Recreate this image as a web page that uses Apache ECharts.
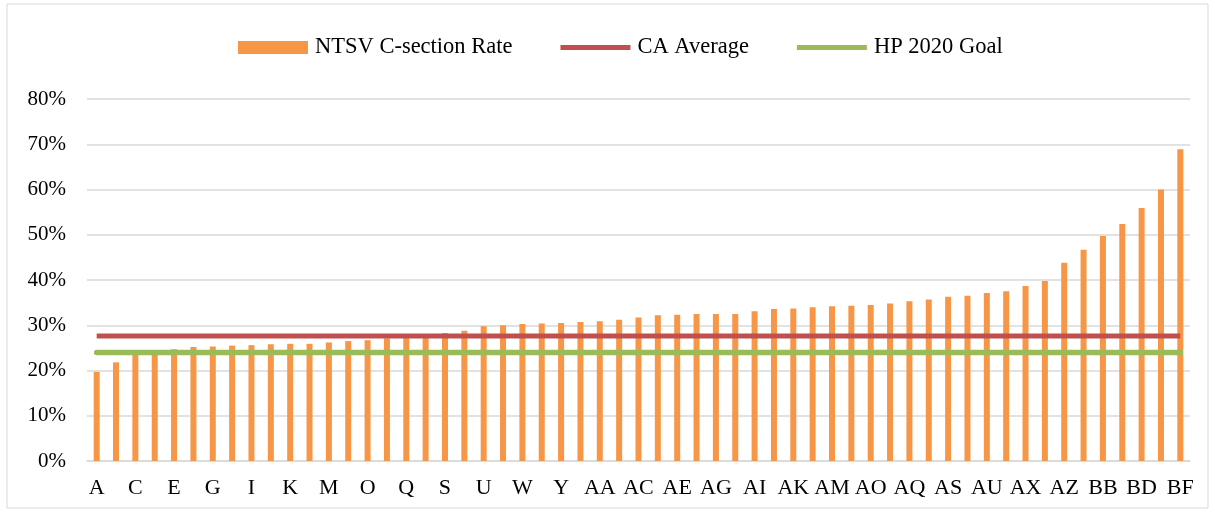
<!DOCTYPE html>
<html>
<head>
<meta charset="utf-8">
<script src="https://cdn.jsdelivr.net/npm/echarts@6/dist/echarts.min.js"></script>
<style>
  html, body { margin: 0; padding: 0; background: #fff; }
  #chart { width: 1215px; height: 512px; }
</style>
</head>
<body>
<div id="chart"></div>
<script>
// hospitals (labels), one skipped letter between AU and AX
const categories = [
  "A", "B", "C", "D", "E", "F", "G", "H", "I", "J", "K", "L", "M",
  "N", "O", "P", "Q", "R", "S", "T", "U", "V", "W", "X", "Y", "Z",
  "AA", "AB", "AC", "AD", "AE", "AF", "AG", "AH", "AI", "AJ", "AK",
  "AL", "AM", "AN", "AO", "AP", "AQ", "AR", "AS", "AT", "AU", "AW",
  "AX", "AY", "AZ", "BA", "BB", "BC", "BD", "BE", "BF"
];

// NTSV C-section rate, percent
const ntsvRate = [
  19.7, 21.8, 23.7, 24.0, 24.7, 25.2, 25.3, 25.5, 25.6, 25.8, 25.9, 25.9, 26.2,
  26.5, 26.7, 27.1, 27.4, 27.7, 28.3, 28.8, 29.8, 30.0, 30.3, 30.4, 30.5, 30.7,
  30.9, 31.2, 31.7, 32.2, 32.3, 32.5, 32.5, 32.5, 33.1, 33.6, 33.7,
  34.0, 34.2, 34.3, 34.5, 34.8, 35.3, 35.7, 36.3, 36.5, 37.1, 37.5,
  38.7, 39.8, 43.8, 46.7, 49.7, 52.4, 55.9, 60.0, 68.9
];

const caAverage = 27.6;
const hpGoal = 24.0;

const yTicks = { min: 0, max: 80, step: 10 };

const font = "'Liberation Serif', 'DejaVu Serif', serif";

// flat line icon for the legend
const lineIcon = "path://M0,0L70,0L70,5L0,5Z";

const chart = echarts.init(document.getElementById("chart"));

chart.setOption({
  animation: false,
  textStyle: { fontFamily: font },
  graphic: [
    {
      type: "rect",
      shape: { x: 7, y: 4, width: 1201, height: 504 },
      style: { fill: "none", stroke: "#d9d9d9", lineWidth: 1 },
      silent: true,
      z: -1
    }
  ],
  legend: {
    top: 31,
    left: 233,
    itemWidth: 70,
    itemHeight: 13,
    itemGap: 48,
    textStyle: { fontFamily: font, fontSize: 22.5, color: "#000", padding: [0, 0, 0, 2] },
    data: [
      { name: "NTSV C-section Rate", icon: "rect" },
      { name: "CA Average", icon: lineIcon },
      { name: "HP 2020 Goal", icon: lineIcon }
    ]
  },
  grid: { left: 87, right: 25, top: 99, bottom: 51 },
  xAxis: {
    type: "category",
    data: categories,
    axisLine: { lineStyle: { color: "#d9d9d9", width: 1.5 } },
    axisTick: { show: false },
    axisLabel: {
      interval: 1,
      color: "#000",
      fontFamily: font,
      fontSize: 22,
      margin: 16
    }
  },
  yAxis: {
    type: "value",
    min: yTicks.min,
    max: yTicks.max,
    interval: yTicks.step,
    axisLine: { show: false },
    axisTick: { show: false },
    splitLine: { lineStyle: { color: "#d9d9d9", width: 1.5 } },
    axisLabel: {
      formatter: "{value}%",
      color: "#000",
      fontFamily: font,
      fontSize: 21,
      margin: 21
    }
  },
  series: [
    {
      name: "NTSV C-section Rate",
      type: "bar",
      data: ntsvRate,
      barWidth: 6,
      itemStyle: { color: "#F79646" }
    },
    {
      name: "CA Average",
      type: "line",
      data: categories.map(() => caAverage),
      symbol: "none",
      lineStyle: { color: "#C0504D", width: 5 },
      itemStyle: { color: "#C0504D" }
    },
    {
      name: "HP 2020 Goal",
      type: "line",
      data: categories.map(() => hpGoal),
      symbol: "none",
      lineStyle: { color: "#9BBB59", width: 5.5, cap: "round" },
      itemStyle: { color: "#9BBB59" }
    }
  ]
});
</script>
</body>
</html>
